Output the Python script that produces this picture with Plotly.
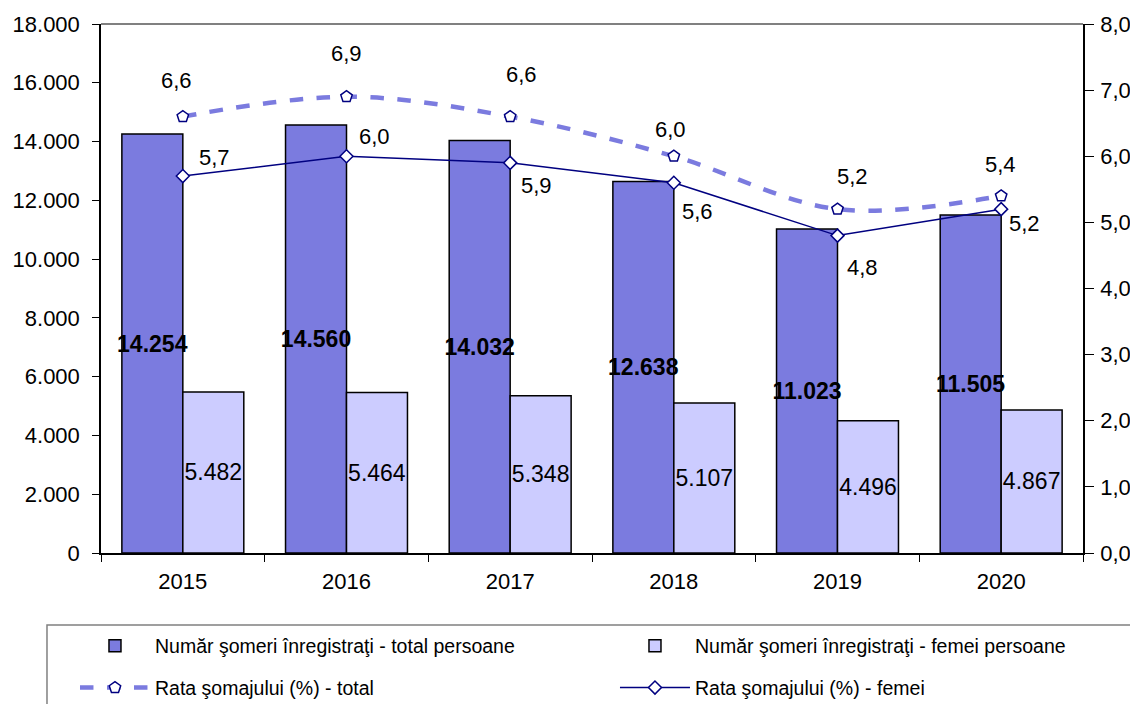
import plotly.graph_objects as go

# Data
years = [2015, 2016, 2017, 2018, 2019, 2020]
someri_total = [14254, 14560, 14032, 12638, 11023, 11505]
someri_femei = [5482, 5464, 5348, 5107, 4496, 4867]
rata_total = [6.6, 6.9, 6.6, 6.0, 5.2, 5.4]
rata_femei = [5.7, 6.0, 5.9, 5.6, 4.8, 5.2]

names = [
    "Număr şomeri înregistraţi - total persoane",
    "Număr şomeri înregistraţi - femei persoane",
    "Rata şomajului (%) - total",
    "Rata şomajului (%) - femei",
]

# label offsets in pixels (style only)
off_total = [(-6, 36), (0, 43), (11, 42), (-3, 27), (15, 33), (-1, 31)]
off_femei = [(32, 19), (28, 20), (26, -23), (24, -29), (25, -32), (23, -14)]

FONT = "Arial, Liberation Sans, sans-serif"
C_TOTAL = "#7B7BDF"
C_FEMEI = "#CCCCFF"
NAVY = "#000080"

fig = go.Figure()

fig.add_trace(go.Bar(
    x=years, y=someri_total, name=names[0], legend="legend",
    marker=dict(color=C_TOTAL, line=dict(color="black", width=1.5)),
    texttemplate="<b>%{y:,d}</b>", textposition="inside",
    insidetextanchor="middle", textangle=0, constraintext="none",
    textfont=dict(size=23, color="black", family=FONT),
))
fig.add_trace(go.Bar(
    x=years, y=someri_femei, name=names[1], legend="legend2",
    marker=dict(color=C_FEMEI, line=dict(color="black", width=1.5)),
    texttemplate="%{y:,d}", textposition="inside",
    insidetextanchor="middle", textangle=0, constraintext="none",
    textfont=dict(size=23, color="black", family=FONT),
))
fig.add_trace(go.Scatter(
    x=years, y=rata_total, name=names[2], yaxis="y2", legend="legend3",
    mode="lines+markers",
    line=dict(color=C_TOTAL, width=4.5, dash="dash", shape="spline"),
    marker=dict(symbol="pentagon", size=12, color="white",
                line=dict(color=NAVY, width=1.5)),
))
fig.add_trace(go.Scatter(
    x=years, y=rata_femei, name=names[3], yaxis="y2", legend="legend4",
    mode="lines+markers",
    line=dict(color=NAVY, width=1.5),
    marker=dict(symbol="diamond", size=10, color="white",
                line=dict(color=NAVY, width=1.5)),
))

for yr, v, (dx, dy) in zip(years, rata_total, off_total):
    fig.add_annotation(x=yr, y=v, yref="y2", text=f"{v:.1f}".replace(".", ","),
                       showarrow=False, xshift=dx, yshift=dy,
                       font=dict(size=22, color="black", family=FONT))
for yr, v, (dx, dy) in zip(years, rata_femei, off_femei):
    fig.add_annotation(x=yr, y=v, yref="y2", text=f"{v:.1f}".replace(".", ","),
                       showarrow=False, xshift=dx, yshift=dy,
                       font=dict(size=22, color="black", family=FONT))

# gray top border of the plot area
fig.add_shape(type="line", xref="paper", yref="paper", x0=0, x1=1, y0=1, y1=1,
              line=dict(color="#808080", width=2))
# legend frame
fig.add_shape(type="rect", xref="paper", yref="paper",
              x0=-0.055, x1=1.05, y0=-0.136, y1=-0.32,
              line=dict(color="#808080", width=1.5), fillcolor="rgba(0,0,0,0)")

leg = dict(orientation="h", xanchor="left", yanchor="middle",
           bgcolor="rgba(0,0,0,0)", borderwidth=0,
           font=dict(size=19.5, family=FONT, color="black"), itemwidth=70)
col1, col2 = -0.0265, 0.5234
row1, row2 = -0.176, -0.255

fig.update_layout(
    width=1130, height=696,
    margin=dict(l=93, r=55, t=16, b=151, autoexpand=False),
    paper_bgcolor="white", plot_bgcolor="white",
    separators=",.",
    barmode="group", bargap=0.255, bargroupgap=0,
    font=dict(family=FONT, size=22, color="black"),
    showlegend=True,
    xaxis=dict(
        range=[years[0] - 0.5, years[-1] + 0.5],
        tickvals=years, ticks="", tickformat="d", ticklabelstandoff=8,
        minor=dict(tick0=years[0] - 0.5, dtick=1, ticks="outside",
                   ticklen=7, tickcolor="black", showgrid=False),
        showline=True, linecolor="black", linewidth=2,
        showgrid=False, zeroline=False, tickfont=dict(size=22),
    ),
    yaxis=dict(
        range=[0, 18000], dtick=2000, tickformat=",d",
        showline=True, linecolor="black", linewidth=1.5,
        ticks="outside", ticklen=7, tickcolor="black", ticklabelstandoff=8,
        showgrid=False, zeroline=False, tickfont=dict(size=22),
    ),
    yaxis2=dict(
        overlaying="y", side="right", range=[0, 8], dtick=1, tickformat=".1f",
        showline=True, linecolor="black", linewidth=1.5,
        ticks="outside", ticklen=9, tickcolor="black", ticklabelstandoff=2,
        showgrid=False, zeroline=False, tickfont=dict(size=22),
    ),
    legend=dict(leg, x=col1, y=row1),
    legend2=dict(leg, x=col2, y=row1),
    legend3=dict(leg, x=col1, y=row2),
    legend4=dict(leg, x=col2, y=row2),
)

fig.write_html("out.html")
